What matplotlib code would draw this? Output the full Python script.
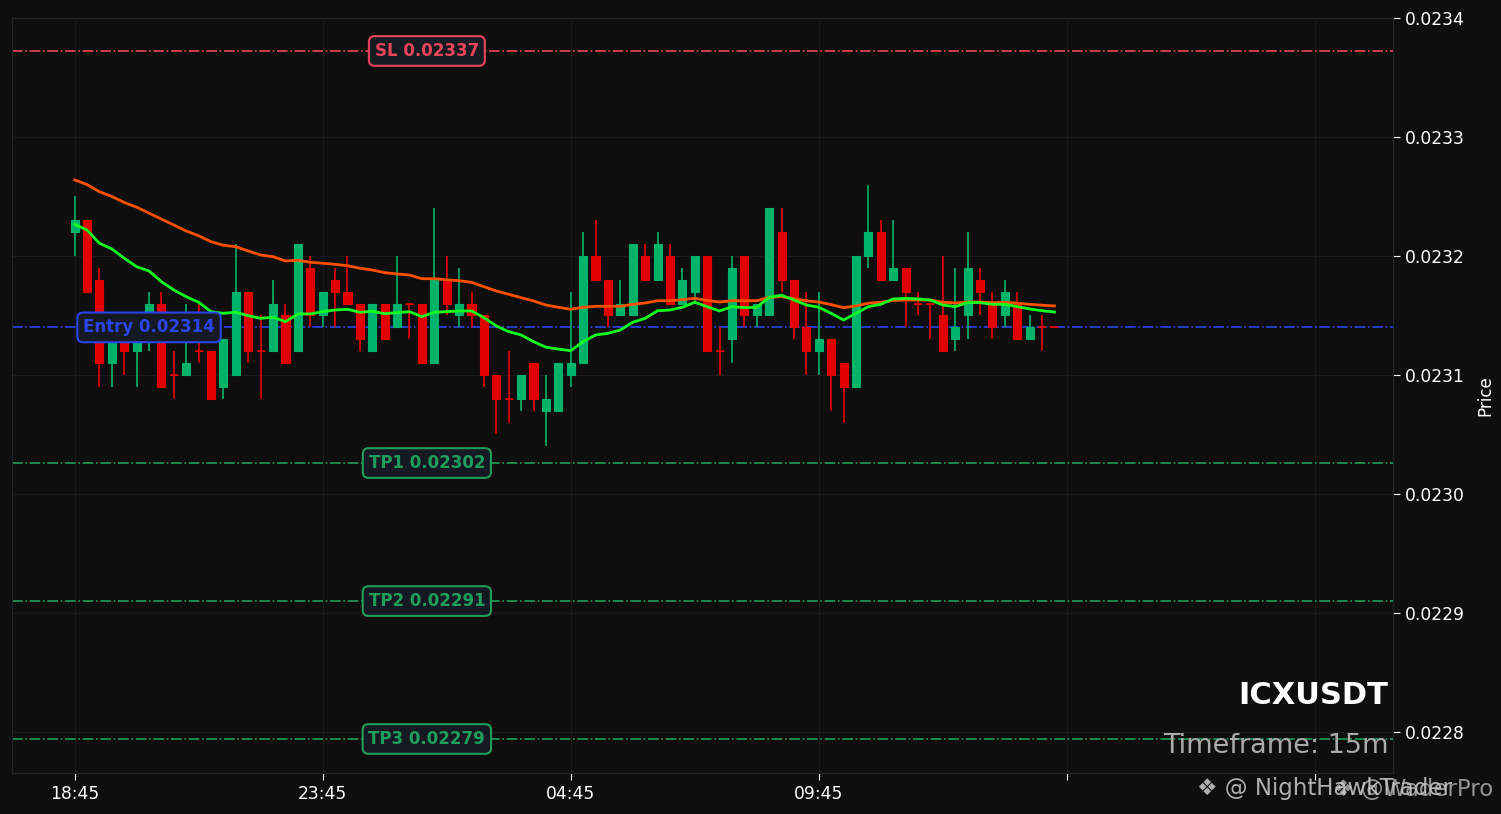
import numpy as np
import matplotlib
matplotlib.use('Agg')
import matplotlib.pyplot as plt

# candles, 15m, in units of 0.00001
opens  = [2322,2323,2318,2311,2314,2312,2314,2316,2310,2310,2312,2312,2309,2310,2317,2312,2312,2315,2312,2319,
          2315,2318,2317,2316,2312,2316,2314,2316,2316,2311,2318,2315,2316,2315,2310,2308,2308,2311,2307,2307,
          2310,2311,2320,2318,2315,2315,2320,2318,2320,2316,2317,2320,2312,2313,2320,2315,2315,2322,2318,2314,
          2312,2313,2311,2309,2320,2322,2318,2319,2316,2316,2315,2313,2315,2318,2316,2315,2316,2313,2314,2314]
highs  = [2325,2323,2319,2314,2315,2315,2317,2317,2312,2316,2316,2312,2313,2321,2317,2315,2318,2316,2321,2320,
          2317,2319,2320,2316,2316,2316,2320,2316,2316,2324,2320,2319,2317,2315,2310,2312,2310,2311,2310,2311,
          2317,2322,2323,2318,2318,2321,2321,2322,2321,2319,2320,2320,2314,2320,2320,2316,2324,2324,2318,2317,
          2317,2313,2311,2320,2326,2323,2323,2319,2317,2316,2320,2319,2322,2319,2317,2318,2317,2315,2315,2314]
lows   = [2320,2317,2309,2309,2310,2309,2312,2309,2308,2310,2311,2308,2308,2310,2311,2308,2312,2311,2312,2314,
          2314,2314,2316,2312,2312,2313,2314,2313,2311,2311,2315,2314,2314,2309,2305,2306,2307,2307,2304,2307,
          2309,2311,2318,2314,2315,2315,2318,2318,2316,2316,2316,2312,2310,2311,2314,2314,2315,2317,2313,2310,
          2310,2307,2306,2309,2319,2318,2318,2314,2315,2313,2312,2312,2313,2315,2313,2314,2313,2313,2312,2314]
closes = [2323,2317,2311,2313,2312,2314,2316,2309,2310,2311,2312,2308,2313,2317,2312,2312,2316,2311,2321,2315,
          2317,2317,2316,2313,2316,2313,2316,2316,2311,2318,2316,2316,2315,2310,2308,2308,2310,2308,2308,2311,
          2311,2320,2318,2315,2316,2321,2318,2321,2316,2318,2320,2312,2312,2319,2315,2316,2324,2318,2314,2312,
          2313,2310,2309,2320,2322,2318,2319,2317,2316,2316,2312,2314,2319,2317,2314,2317,2313,2314,2314,2314]

ema_fast = [2322.66,2322.18,2321.07,2320.59,2319.81,2319.10,2318.74,2317.84,2317.14,2316.58,
            2316.11,2315.32,2315.18,2315.27,2314.98,2314.76,2314.85,2314.48,2315.13,2315.13,
            2315.32,2315.46,2315.52,2315.27,2315.35,2315.15,2315.24,2315.32,2314.90,2315.27,
            2315.32,2315.38,2315.38,2314.82,2314.12,2313.64,2313.36,2312.80,2312.33,2312.18,
            2312.04,2312.80,2313.36,2313.50,2313.78,2314.43,2314.76,2315.40,2315.46,2315.69,
            2316.11,2315.74,2315.38,2315.74,2315.66,2315.69,2316.53,2316.70,2316.30,2315.88,
            2315.69,2315.18,2314.62,2315.18,2315.74,2315.94,2316.39,2316.44,2316.39,2316.30,
            2315.88,2315.74,2316.08,2316.08,2315.94,2315.94,2315.74,2315.55,2315.40,2315.29]
ema_slow = [2326.40,2326.00,2325.40,2325.00,2324.50,2324.10,2323.60,2323.10,2322.60,2322.10,
            2321.70,2321.20,2320.90,2320.78,2320.42,2320.08,2319.94,2319.58,2319.64,2319.47,
            2319.39,2319.30,2319.18,2318.97,2318.82,2318.60,2318.49,2318.40,2318.09,2318.09,
            2318.00,2317.92,2317.79,2317.42,2317.06,2316.78,2316.50,2316.22,2315.88,2315.69,
            2315.52,2315.69,2315.77,2315.77,2315.77,2315.94,2316.05,2316.24,2316.24,2316.33,
            2316.44,2316.27,2316.13,2316.24,2316.24,2316.24,2316.53,2316.58,2316.41,2316.24,
            2316.13,2315.91,2315.66,2315.80,2316.03,2316.11,2316.27,2316.30,2316.30,2316.30,
            2316.11,2316.05,2316.13,2316.13,2316.08,2316.11,2316.03,2315.94,2315.86,2315.80]

time_labels = ['18:45', '23:45', '04:45', '09:45']
symbol = 'ICXUSDT'
timeframe = '15m'
entry = 0.02314
sl = 0.0233723
tps = [0.023026, 0.02291, 0.0227941]
sl_txt = 'SL 0.02337'
entry_txt = 'Entry 0.02314'
tp_txt = ['TP1 0.02302', 'TP2 0.02291', 'TP3 0.02279']

s = 1e-5
o = np.array(opens) * s
h = np.array(highs) * s
l = np.array(lows) * s
c = np.array(closes) * s
x = np.arange(len(o))

bg = '#0e0e0e'
up_col = '#00b36b'
dn_col = '#e30000'

fig = plt.figure(figsize=(15.01, 8.14), dpi=100, facecolor=bg)
ax = fig.add_axes([12/1501, 1-773/814, (1393-12)/1501, (773-18)/814])
ax.set_facecolor(bg)

up = c > o
cols = np.where(up, up_col, dn_col)
ax.vlines(x, l, h, colors=cols, linewidth=1.2, zorder=3)
body_b = np.minimum(o, c)
body_h = np.abs(c - o)
ax.bar(x, body_h, bottom=body_b, width=0.65, color=cols, edgecolor=cols, linewidth=0.8, zorder=4)
doji = body_h == 0
ax.hlines(c[doji], x[doji]-0.32, x[doji]+0.32, colors=dn_col, linewidth=1.2, zorder=4)

ax.plot(x, np.array(ema_slow)*s, color='#ff5000', linewidth=2, zorder=5)
ax.plot(x, np.array(ema_fast)*s, color='#10ff20', linewidth=2, zorder=5)

box_bg = '#151a22'
def level(y, col, txt, xpos):
    ax.axhline(y, color=col, linestyle='-.', linewidth=1.2, zorder=2)
    ax.text(xpos, y, txt, color=col, fontsize=12, fontweight='bold', ha='center', va='center', zorder=6,
            bbox=dict(boxstyle='round,pad=0.35', facecolor=box_bg, edgecolor=col, linewidth=1.5))

level(sl, '#e8455a', sl_txt, 28.4)
level(entry, '#2a44e8', entry_txt, 6.0)
for tp, t in zip(tps, tp_txt):
    level(tp, '#1f9d5c', t, 28.4)

ax.set_xlim(-5.05, 106.3)
ax.set_ylim(0.0227655, 0.02340)

ticks = np.arange(0, 101, 20)
ax.set_xticks(ticks)
ax.set_xticklabels(time_labels + [''] * (len(ticks) - len(time_labels)))
ax.yaxis.tick_right()
ax.yaxis.set_label_position('right')
yt = [0.0228, 0.0229, 0.0230, 0.0231, 0.0232, 0.0233, 0.0234]
ax.set_yticks(yt)
ax.set_yticklabels(['%.4f' % v for v in yt])
ax.tick_params(colors='white', labelsize=12.3, length=5)
ax.set_ylabel('Price', color='white', fontsize=12, labelpad=8)
ax.grid(True, color='#1a1a1a', linewidth=0.8)
for sp in ax.spines.values():
    sp.set_color('#22232a')

ax.text(0.9965, 0.083, symbol, transform=ax.transAxes, color='white', fontsize=22, fontweight='bold',
        ha='right', va='bottom', zorder=7)
ax.text(0.9965, 0.018, 'Timeframe: ' + timeframe, transform=ax.transAxes, color='#aaaaaa', fontsize=19.5,
        ha='right', va='bottom', zorder=7)

fig.text(1197/1501, 1-789/814, '\u2756 @ NightHawkTrader', color='#cccccc', alpha=0.85, fontsize=16.5,
         ha='left', va='center')
fig.text(1333/1501, 1-789/814, '\u2756 @WaderPro', color='#cccccc', alpha=0.7, fontsize=16.5,
         ha='left', va='center')

fig.savefig('out.png', dpi=100, facecolor=bg)
